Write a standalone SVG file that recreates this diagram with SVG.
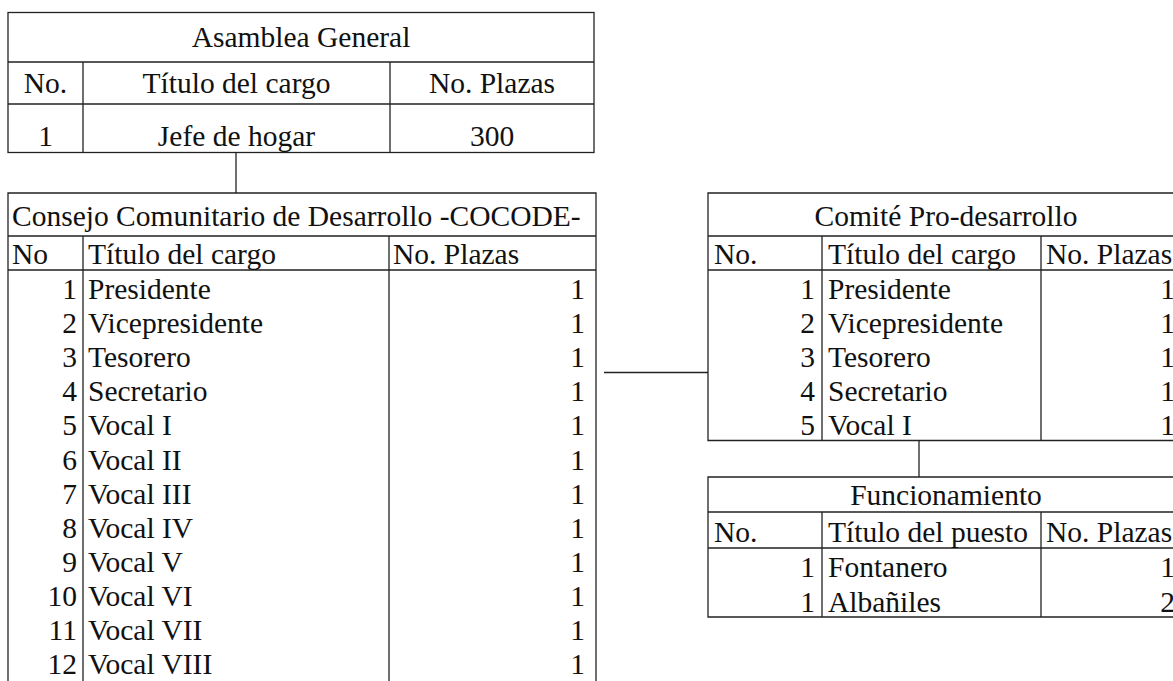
<svg xmlns="http://www.w3.org/2000/svg" width="1173" height="681" viewBox="0 0 1173 681">
<style>
.b{fill:none;stroke:#222;stroke-width:1.3}
.t{font-family:"Liberation Serif","Times New Roman",serif;font-size:29.5px;fill:#111}
.c{text-anchor:middle}
.e{text-anchor:end}
.cn{fill:none;stroke:#222;stroke-width:1.3}
</style>
<rect width="1173" height="681" fill="#fff"/>
<g id="asamblea">
<rect class="b" x="8" y="12.5" width="586" height="140"/>
<path class="b" d="M8 62H594M8 104H594M83 62V152.5M390 62V152.5"/>
<text class="t c" x="301" y="47">Asamblea General</text>
<text class="t c" x="45.5" y="93">No.</text>
<text class="t c" x="236.5" y="93">Título del cargo</text>
<text class="t c" x="492" y="93">No. Plazas</text>
<text class="t c" x="45.5" y="146">1</text>
<text class="t c" x="236.5" y="146">Jefe de hogar</text>
<text class="t c" x="492" y="146">300</text>
</g>
<g id="cocode">
<path class="b" d="M8 690V193H596V690M8 236H596M8 270H596M83 236V690M389 236V690"/>
<text class="t" x="12" y="226">Consejo Comunitario de Desarrollo -COCODE-</text>
<text class="t" x="12" y="264">No</text>
<text class="t" x="88" y="264">Título del cargo</text>
<text class="t" x="393" y="264">No. Plazas</text>
<g class="t">
<text class="e" x="77" y="299">1</text><text x="88" y="299">Presidente</text><text class="e" x="585" y="299">1</text>
<text class="e" x="77" y="333.1">2</text><text x="88" y="333.1">Vicepresidente</text><text class="e" x="585" y="333.1">1</text>
<text class="e" x="77" y="367.2">3</text><text x="88" y="367.2">Tesorero</text><text class="e" x="585" y="367.2">1</text>
<text class="e" x="77" y="401.3">4</text><text x="88" y="401.3">Secretario</text><text class="e" x="585" y="401.3">1</text>
<text class="e" x="77" y="435.4">5</text><text x="88" y="435.4">Vocal I</text><text class="e" x="585" y="435.4">1</text>
<text class="e" x="77" y="469.5">6</text><text x="88" y="469.5">Vocal II</text><text class="e" x="585" y="469.5">1</text>
<text class="e" x="77" y="503.6">7</text><text x="88" y="503.6">Vocal III</text><text class="e" x="585" y="503.6">1</text>
<text class="e" x="77" y="537.7">8</text><text x="88" y="537.7">Vocal IV</text><text class="e" x="585" y="537.7">1</text>
<text class="e" x="77" y="571.8">9</text><text x="88" y="571.8">Vocal V</text><text class="e" x="585" y="571.8">1</text>
<text class="e" x="77" y="605.9">10</text><text x="88" y="605.9">Vocal VI</text><text class="e" x="585" y="605.9">1</text>
<text class="e" x="77" y="640">11</text><text x="88" y="640">Vocal VII</text><text class="e" x="585" y="640">1</text>
<text class="e" x="77" y="674">12</text><text x="88" y="674">Vocal VIII</text><text class="e" x="585" y="674">1</text>
</g>
</g>
<g id="comite">
<path class="b" d="M1190 193H708V440.5H1190M708 236H1190M708 270H1190M822 236V440.5M1041 236V440.5"/>
<text class="t c" x="946" y="226">Comité Pro-desarrollo</text>
<text class="t" x="714" y="264">No.</text>
<text class="t" x="828" y="264">Título del cargo</text>
<text class="t" x="1046" y="264">No. Plazas</text>
<g class="t">
<text class="e" x="815" y="299">1</text><text x="828" y="299">Presidente</text><text class="e" x="1175" y="299">1</text>
<text class="e" x="815" y="333.1">2</text><text x="828" y="333.1">Vicepresidente</text><text class="e" x="1175" y="333.1">1</text>
<text class="e" x="815" y="367.2">3</text><text x="828" y="367.2">Tesorero</text><text class="e" x="1175" y="367.2">1</text>
<text class="e" x="815" y="401.3">4</text><text x="828" y="401.3">Secretario</text><text class="e" x="1175" y="401.3">1</text>
<text class="e" x="815" y="435.4">5</text><text x="828" y="435.4">Vocal I</text><text class="e" x="1175" y="435.4">1</text>
</g>
</g>
<g id="funcionamiento">
<path class="b" d="M1190 477H708V617H1190M708 512H1190M708 548H1190M822 512V617M1041 512V617"/>
<text class="t c" x="946" y="505">Funcionamiento</text>
<text class="t" x="714" y="542">No.</text>
<text class="t" x="828" y="542">Título del puesto</text>
<text class="t" x="1046" y="542">No. Plazas</text>
<g class="t">
<text class="e" x="815" y="577">1</text><text x="828" y="577">Fontanero</text><text class="e" x="1175" y="577">1</text>
<text class="e" x="815" y="611.5">1</text><text x="828" y="611.5">Albañiles</text><text class="e" x="1175" y="611.5">2</text>
</g>
</g>
<g id="connectors">
<path class="cn" d="M236 152.5V193"/>
<path class="cn" d="M604 372.5H708"/>
<path class="cn" d="M919 440.5V477"/>
</g>
</svg>
